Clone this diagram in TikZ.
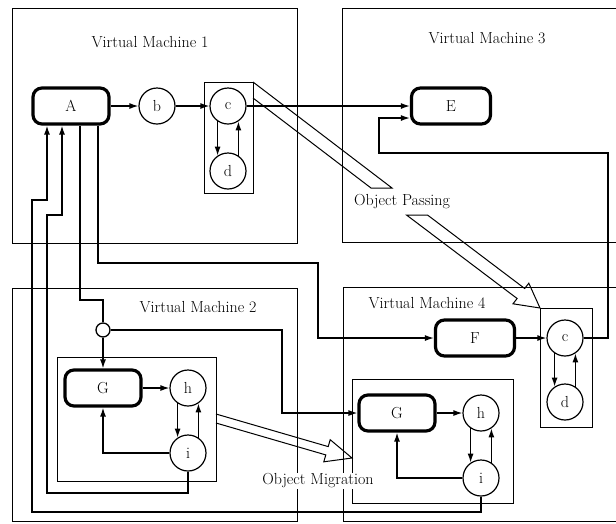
\documentclass[tikz,border=0pt]{standalone}
\usepackage{tikz}
\usetikzlibrary{positioning, calc, arrows.meta}

\tikzset{
  vmframe/.style={line width=0.9pt},
  objbox/.style={draw, line width=3.2pt, rounded corners=9pt, minimum width=76pt, minimum height=36pt, inner sep=0pt},
  objcirc/.style={draw, circle, line width=1.2pt, minimum size=36pt, inner sep=0pt},
  wire/.style={line width=1.3pt},
  hollow/.style={line width=1pt, line join=miter},
  vmlabel/.style={fill=white, inner sep=1pt},
}

\begin{document}
\begin{tikzpicture}[thick, x=1pt, y=-1pt, >={Latex[length=9pt,width=6pt]}, font=\fontsize{16}{19}\selectfont]
    \useasboundingbox (0,0) rectangle (616,523);
    \clip (0,0) rectangle (616,523);

    % --- Virtual Machine Frames ---
    \draw[vmframe] (12,8) rectangle (297,243);
    \draw[vmframe] (342,8) rectangle (640,242);
    \draw[vmframe] (12,288) rectangle (297,521);
    \draw[vmframe] (343,287) rectangle (640,521);

    % --- Object Groups ---
    \draw[vmframe] (204,82) rectangle (253,193);
    \draw[vmframe] (540,308) rectangle (592,427);
    \draw[vmframe] (57,357) rectangle (216,481);
    \draw[vmframe] (352,379) rectangle (513,503);

    % --- Objects ---
    \node[objbox] (A) at (71,106) {A};
    \node[objcirc] (b) at (157,106) {b};
    \node[objcirc] (c1) at (228,106) {c};
    \node[objcirc] (d1) at (228,171) {d};
    \node[objbox, minimum width=79pt] (E) at (451,106) {E};
    \node[objbox, minimum width=79pt] (F) at (475,338) {F};
    \node[objcirc] (c4) at (565,338) {c};
    \node[objcirc] (d4) at (565,402) {d};
    \node[draw, circle, wire, minimum size=14pt, inner sep=0pt] (jn) at (103,330) {};
    \node[objbox] (G2) at (103,388) {G};
    \node[objcirc] (h2) at (188,388) {h};
    \node[objcirc] (i2) at (188,453) {i};
    \node[objbox] (G4) at (397,413) {G};
    \node[objcirc] (h4) at (481,413) {h};
    \node[objcirc] (i4) at (481,478) {i};

    % --- Virtual Machine 1 and 3 ---
    \draw[wire,->] (A) -- (b);
    \draw[wire,->] (b) -- (c1);
    \draw[wire,->] (c1.-124) -- (c1.-124 |- d1.124);
    \draw[wire,->] (d1.56) -- (d1.56 |- c1.-56);
    \draw[wire,->] (c1) -- (E);
    \draw[wire,->] (c4.east) -| (608,153) -| (379,118) -- ([yshift=-12pt]E.west);

    % --- Virtual Machine 2 ---
    \draw[wire,->] (jn) -- (G2);
    \draw[wire,->] (G2) -- (h2);
    \draw[wire,->] (h2.-124) -- (h2.-124 |- i2.124);
    \draw[wire,->] (i2.56) -- (i2.56 |- h2.-56);
    \draw[wire,->] (i2.west) -| (G2.south);
    \draw[wire,->] (jn.east) -| (282,413) -- (G4.west);

    % --- Virtual Machine 4 ---
    \draw[wire,->] (F) -- (c4);
    \draw[wire,->] (c4.-124) -- (c4.-124 |- d4.124);
    \draw[wire,->] (d4.56) -- (d4.56 |- c4.-56);
    \draw[wire,->] (G4) -- (h4);
    \draw[wire,->] (h4.-124) -- (h4.-124 |- i4.124);
    \draw[wire,->] (i4.56) -- (i4.56 |- h4.-56);
    \draw[wire,->] (i4.west) -| (G4.south);

    % --- Wires to and from A ---
    \draw[wire,->] (i4.south) |- (32,512) |- (47,200) -- ([xshift=-24pt]A.south);
    \draw[wire,->] (i2.south) |- (47,493) |- (62,215) -- ([xshift=-9pt]A.south);
    \draw[wire] ([xshift=9pt]A.south) |- (103,300) -- (jn);
    \draw[wire,->] ([xshift=27pt]A.south) |- (318,263) |- (F.west);

    % --- Object Passing (hollow arrow) ---
    \draw[hollow] (253,82) -- (392,188) -- (371,188) -- (253,98);
    \draw[hollow] (406.5,215) -- (517.1,298.5) -- (513.0,303.8) -- (540,308)
        -- (528.8,283.2) -- (524.7,288.5) -- (427.5,215) -- cycle;

    % --- Object Migration (hollow arrow) ---
    \draw[hollow] (216,414) -- (328.2,446.6) -- (330.2,439.7) -- (352,458)
        -- (323.8,461.8) -- (325.8,454.9) -- (216,423);

    % --- Labels ---
    \node[vmlabel] (vm1) at (150,42) {Virtual Machine 1};
    \node[vmlabel] (vm3) at (487,38) {Virtual Machine 3};
    \node[vmlabel] (vm2) at (198,307) {Virtual Machine 2};
    \node[vmlabel] (vm4) at (427,303) {Virtual Machine 4};
    \node[vmlabel] (pass) at (402,202) {Object Passing};
    \node[vmlabel] (migr) at (318,481) {Object Migration};

\end{tikzpicture}
\end{document}
